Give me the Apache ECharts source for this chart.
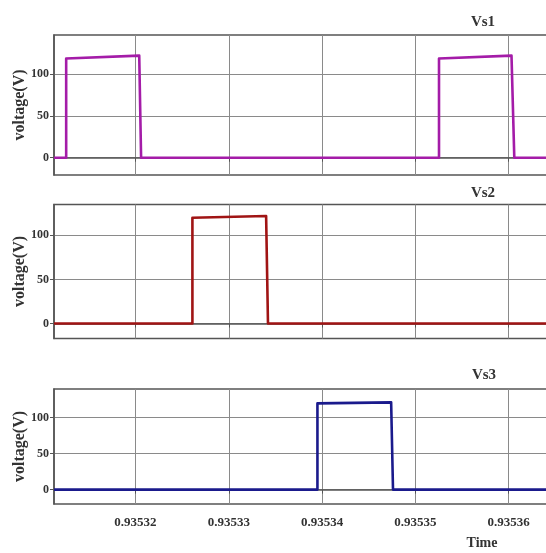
<!DOCTYPE html>
<html>
<head>
<meta charset="utf-8">
<script src="https://cdn.jsdelivr.net/npm/echarts@6/dist/echarts.min.js"></script>
<style>
html,body{margin:0;padding:0;background:#fff;}
#chart{width:546px;height:553px;}
</style>
</head>
<body>
<div id="chart"></div>
<script>
// ---- data ----
const panelTitles = ['Vs1', 'Vs2', 'Vs3'];
const xTickValues = [0.93532, 0.93533, 0.93534, 0.93535, 0.93536, 0.93537];
const yTickValues = [0, 50, 100];
const xMin = 0.935311265;
const xMax = 0.93537;

const vs1Time = [xMin, 0.93531257, 0.93531257, 0.9353204, 0.9353206, 0.93535253, 0.93535253, 0.9353603, 0.9353606, xMax];
const vs1Volt = [0, 0, 118.5, 122, 0, 0, 118.5, 122, 0, 0];

const vs2Time = [xMin, 0.9353261, 0.9353261, 0.935334, 0.9353342, xMax];
const vs2Volt = [0, 0, 120, 122, 0, 0];

const vs3Time = [xMin, 0.9353395, 0.9353395, 0.9353474, 0.9353476, xMax];
const vs3Volt = [0, 0, 119.5, 121, 0, 0];

const yRanges = [[-20.7, 146.6], [-17, 135], [-20, 139.5]];

// ---- chart ----
const zip = (t, v) => t.map((x, i) => [x, v[i]]);
const seriesData = [zip(vs1Time, vs1Volt), zip(vs2Time, vs2Volt), zip(vs3Time, vs3Volt)];
const colors = ['#a41ca8', '#a01414', '#1a1a8c'];
const gridPos = [
  {top: 35, height: 140},
  {top: 204.5, height: 134},
  {top: 389, height: 115}
];
const FONT = "'Liberation Serif', 'Times New Roman', serif";

const chart = echarts.init(document.getElementById('chart'), null, {renderer: 'canvas'});

const grids = gridPos.map(g => ({
  left: 54, right: -56, top: g.top, height: g.height,
  outerBoundsMode: 'none', containLabel: false,
  show: true, borderColor: '#555', borderWidth: 1.5, backgroundColor: '#fff'
}));

const xAxes = gridPos.map((g, i) => ({
  type: 'value', gridIndex: i, min: xMin, max: xMax,
  axisLine: {show: true, lineStyle: {color: '#555', width: 1.5}},
  axisTick: {show: true, length: 4, customValues: xTickValues, lineStyle: {color: '#555'}},
  axisLabel: {
    show: i === 2, customValues: xTickValues, margin: 12,
    formatter: v => v.toFixed(5),
    fontFamily: FONT, fontWeight: 'bold', fontSize: 13, color: '#333'
  },
  splitLine: {show: true, lineStyle: {color: '#8a8a8a', width: 1}}
}));

const yAxes = gridPos.map((g, i) => ({
  type: 'value', gridIndex: i, min: yRanges[i][0], max: yRanges[i][1],
  name: 'voltage(V)', nameLocation: 'middle', nameGap: 26, nameMoveOverlap: false,
  nameTextStyle: {fontFamily: FONT, fontWeight: 'bold', fontSize: 16, color: '#333'},
  axisLine: {show: true, lineStyle: {color: '#555', width: 1.5}},
  axisTick: {show: true, length: 4, customValues: yTickValues, lineStyle: {color: '#555'}},
  axisLabel: {
    customValues: yTickValues, margin: 5,
    fontFamily: FONT, fontWeight: 'bold', fontSize: 12, color: '#333'
  },
  splitLine: {show: true, lineStyle: {color: '#8a8a8a', width: 1}}
}));

const series = seriesData.map((d, i) => ({
  type: 'line', xAxisIndex: i, yAxisIndex: i, data: d,
  showSymbol: false, symbol: 'none', animation: false,
  lineStyle: {color: colors[i], width: 2.6, join: 'round'},
  clip: true
}));

const titlePos = [[483, 22], [483, 193], [484, 375]];
const graphics = panelTitles.map((t, i) => ({
  type: 'text', x: titlePos[i][0], y: titlePos[i][1],
  style: {text: t, fontFamily: FONT, fontWeight: 'bold', fontSize: 15, fill: '#333',
          textAlign: 'center', textVerticalAlign: 'middle'}
}));
graphics.push({
  type: 'text', x: 482, y: 543,
  style: {text: 'Time', fontFamily: FONT, fontWeight: 'bold', fontSize: 14, fill: '#333',
          textAlign: 'center', textVerticalAlign: 'middle'}
});

chart.setOption({
  backgroundColor: '#fff',
  animation: false,
  grid: grids,
  xAxis: xAxes,
  yAxis: yAxes,
  series: series,
  graphic: graphics
});
</script>
</body>
</html>
